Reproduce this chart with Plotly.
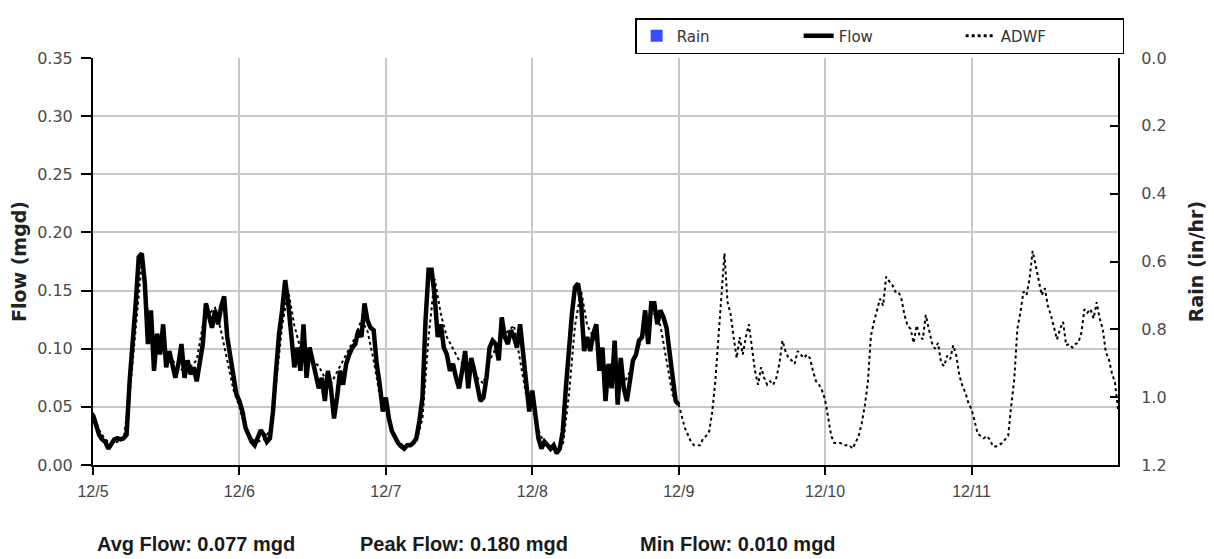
import pandas as pd
import plotly.graph_objects as go

# ---------------- data ----------------
flow = [
    0.043,0.035,0.026,0.022,0.020,0.014,0.019,0.022,0.023,0.022,0.023,0.026,
    0.072,0.113,0.139,0.179,0.182,0.156,0.104,0.133,0.081,0.113,0.095,0.121,
    0.084,0.098,0.087,0.075,0.087,0.104,0.075,0.090,0.078,0.084,0.072,0.087,
    0.104,0.139,0.130,0.118,0.133,0.121,0.136,0.145,0.110,0.095,0.081,0.061,
    0.055,0.046,0.032,0.026,0.020,0.017,0.025,0.030,0.026,0.020,0.023,0.046,
    0.081,0.113,0.133,0.159,0.139,0.107,0.084,0.101,0.081,0.121,0.075,0.101,
    0.087,0.078,0.066,0.075,0.055,0.081,0.066,0.040,0.058,0.081,0.069,0.087,
    0.095,0.101,0.104,0.116,0.110,0.139,0.124,0.118,0.116,0.087,0.069,0.046,
    0.058,0.040,0.029,0.023,0.019,0.016,0.014,0.017,0.017,0.019,0.023,0.038,
    0.058,0.124,0.168,0.168,0.145,0.110,0.121,0.101,0.095,0.081,0.087,0.075,
    0.066,0.081,0.098,0.066,0.092,0.081,0.069,0.055,0.058,0.075,0.101,0.107,
    0.104,0.090,0.127,0.110,0.104,0.116,0.110,0.101,0.121,0.098,0.069,0.046,
    0.064,0.040,0.023,0.014,0.020,0.017,0.014,0.017,0.010,0.014,0.029,0.066,
    0.101,0.130,0.153,0.156,0.139,0.098,0.110,0.098,0.113,0.121,0.081,0.101,
    0.055,0.087,0.066,0.107,0.052,0.092,0.066,0.055,0.072,0.090,0.095,0.107,
    0.110,0.133,0.104,0.139,0.139,0.121,0.133,0.127,0.118,0.095,0.078,0.055,
    0.052,
]

# ADWF, hourly for 12/5 - 12/8 (mostly hidden beneath the flow trace)
adwf_early = [
    0.045,0.030,0.022,0.018,0.020,0.022,0.060,0.120,0.175,0.130,0.110,0.100,
    0.095,0.090,0.085,0.080,0.085,0.090,0.120,0.130,0.135,0.115,0.090,0.065,
    0.050,0.030,0.022,0.020,0.022,0.030,0.070,0.120,0.150,0.120,0.100,0.095,
    0.090,0.085,0.075,0.070,0.080,0.090,0.100,0.110,0.125,0.115,0.090,0.060,
    0.050,0.030,0.020,0.016,0.017,0.020,0.040,0.110,0.160,0.130,0.110,0.100,
    0.090,0.085,0.085,0.075,0.070,0.090,0.100,0.110,0.115,0.120,0.090,0.060,
    0.055,0.030,0.018,0.016,0.015,0.016,0.060,0.120,0.150,0.120,0.110,0.100,
    0.085,0.080,0.075,0.070,0.080,0.095,0.110,0.125,0.130,0.120,0.090,0.060,
]

# ADWF, half-hourly for 12/9 - 12/12
adwf_late = [
    0.052,0.043,0.032,0.026,0.020,0.017,0.017,0.017,0.023,0.025,0.029,0.046,
    0.072,0.110,0.150,0.182,0.140,0.130,0.110,0.092,0.110,0.095,0.110,0.121,
    0.101,0.081,0.069,0.084,0.075,0.069,0.072,0.069,0.075,0.087,0.107,0.098,
    0.092,0.090,0.087,0.098,0.095,0.092,0.095,0.092,0.081,0.072,0.069,0.064,
    0.056,0.039,0.025,0.019,0.019,0.019,0.017,0.017,0.017,0.014,0.019,0.025,
    0.036,0.051,0.071,0.111,0.123,0.134,0.143,0.137,0.162,0.158,0.155,0.149,
    0.149,0.143,0.129,0.120,0.117,0.105,0.120,0.111,0.108,0.129,0.117,0.105,
    0.100,0.105,0.088,0.085,0.094,0.091,0.103,0.094,0.077,0.068,0.062,0.053,
    0.048,0.036,0.027,0.025,0.023,0.025,0.022,0.016,0.016,0.017,0.019,0.022,
    0.025,0.051,0.074,0.117,0.131,0.149,0.146,0.160,0.184,0.172,0.158,0.146,
    0.152,0.137,0.129,0.117,0.108,0.117,0.123,0.103,0.104,0.101,0.104,0.105,
    0.114,0.134,0.131,0.134,0.126,0.140,0.126,0.117,0.097,0.091,0.079,0.071,
    0.048,
]

rain_days = ["2011-12-05","2011-12-06","2011-12-07","2011-12-08",
             "2011-12-09","2011-12-10","2011-12-11"]
rain = [0, 0, 0, 0, 0, 0, 0]

tick_dates = ["2011-12-05","2011-12-06","2011-12-07","2011-12-08",
              "2011-12-09","2011-12-10","2011-12-11"]
tick_labels = ["12/5","12/6","12/7","12/8","12/9","12/10","12/11"]

stats = ["Avg Flow: 0.077 mgd", "Peak Flow: 0.180 mgd", "Min Flow: 0.010 mgd"]

# ---------------- time axes ----------------
flow_t = pd.date_range("2011-12-05", periods=len(flow), freq="30min")
adwf_t = list(pd.date_range("2011-12-05", periods=len(adwf_early), freq="60min")) + \
         list(pd.date_range("2011-12-09", periods=len(adwf_late), freq="30min"))
adwf = adwf_early + adwf_late

fig = go.Figure()
fig.add_trace(go.Bar(x=rain_days, y=rain, name="Rain", yaxis="y2",
                     marker=dict(color="#3b4cff", line=dict(width=0))))
fig.add_trace(go.Scatter(x=adwf_t, y=adwf, name="ADWF", mode="lines",
                         line=dict(color="black", width=2, dash="dot"),
                         showlegend=False))
fig.add_trace(go.Scatter(x=flow_t, y=flow, name="Flow", mode="lines",
                         line=dict(color="black", width=4.5)))
# legend entry for ADWF kept in order Rain, Flow, ADWF
fig.add_trace(go.Scatter(x=[None], y=[None], name="ADWF", mode="lines",
                         line=dict(color="black", width=3, dash="dot")))

tickfont = dict(family="DejaVu Sans", size=16, color="#4a4a4a")
titlefont = dict(family="DejaVu Sans", size=19, color="#222222")

fig.update_layout(
    width=1206, height=551,
    margin=dict(l=85, r=96, t=50, b=94, autoexpand=False),
    paper_bgcolor="white", plot_bgcolor="white",
    bargap=0,
    legend=dict(orientation="h", x=1.006, xanchor="right", y=1.098, yanchor="top",
                bordercolor="black", borderwidth=1.5, bgcolor="white",
                entrywidth=117, entrywidthmode="pixels",
                font=dict(family="DejaVu Sans", size=15, color="#333333"),
                traceorder="normal"),
    xaxis=dict(
        range=["2011-12-05", "2011-12-12"],
        tickvals=tick_dates, ticktext=tick_labels,
        tickfont=dict(family="Liberation Sans", size=16, color="#444444"),
        showgrid=True, gridcolor="#c8c8c8", gridwidth=1.5,
        showline=True, linecolor="black", linewidth=2,
        ticks="outside", ticklen=8, tickwidth=1.5, tickcolor="black",
        ticklabelstandoff=3, automargin=False,
        zeroline=False,
    ),
    yaxis=dict(
        range=[0, 0.35], dtick=0.05, tickformat=".2f",
        tickfont=tickfont,
        title=dict(text="<b>Flow (mgd)</b>", standoff=12, font=titlefont),
        showgrid=True, gridcolor="#c8c8c8", gridwidth=1.5,
        showline=True, linecolor="black", linewidth=2,
        ticks="outside", ticklen=10, tickwidth=1.5, tickcolor="black",
        ticklabelstandoff=5, automargin=False,
        zeroline=False,
    ),
    yaxis2=dict(
        overlaying="y", side="right",
        range=[1.2, 0], dtick=0.2, tickformat=".1f",
        tickfont=tickfont,
        title=dict(text="<b>Rain (in/hr)</b>", standoff=24, font=titlefont),
        showgrid=False,
        showline=True, linecolor="black", linewidth=2,
        ticks="inside", ticklen=8, tickwidth=1.5, tickcolor="black",
        ticklabelstandoff=18, automargin=False,
        zeroline=False,
    ),
)

xs = [0.002, 0.2585, 0.532]
for s, xp in zip(stats, xs):
    fig.add_annotation(text="<b>" + s + "</b>", xref="paper", yref="paper", x=xp, y=-0.194,
                       xanchor="left", yanchor="middle", showarrow=False,
                       font=dict(family="Liberation Sans", size=20, color="#1a1a1a"))

fig.write_html("out.html")
